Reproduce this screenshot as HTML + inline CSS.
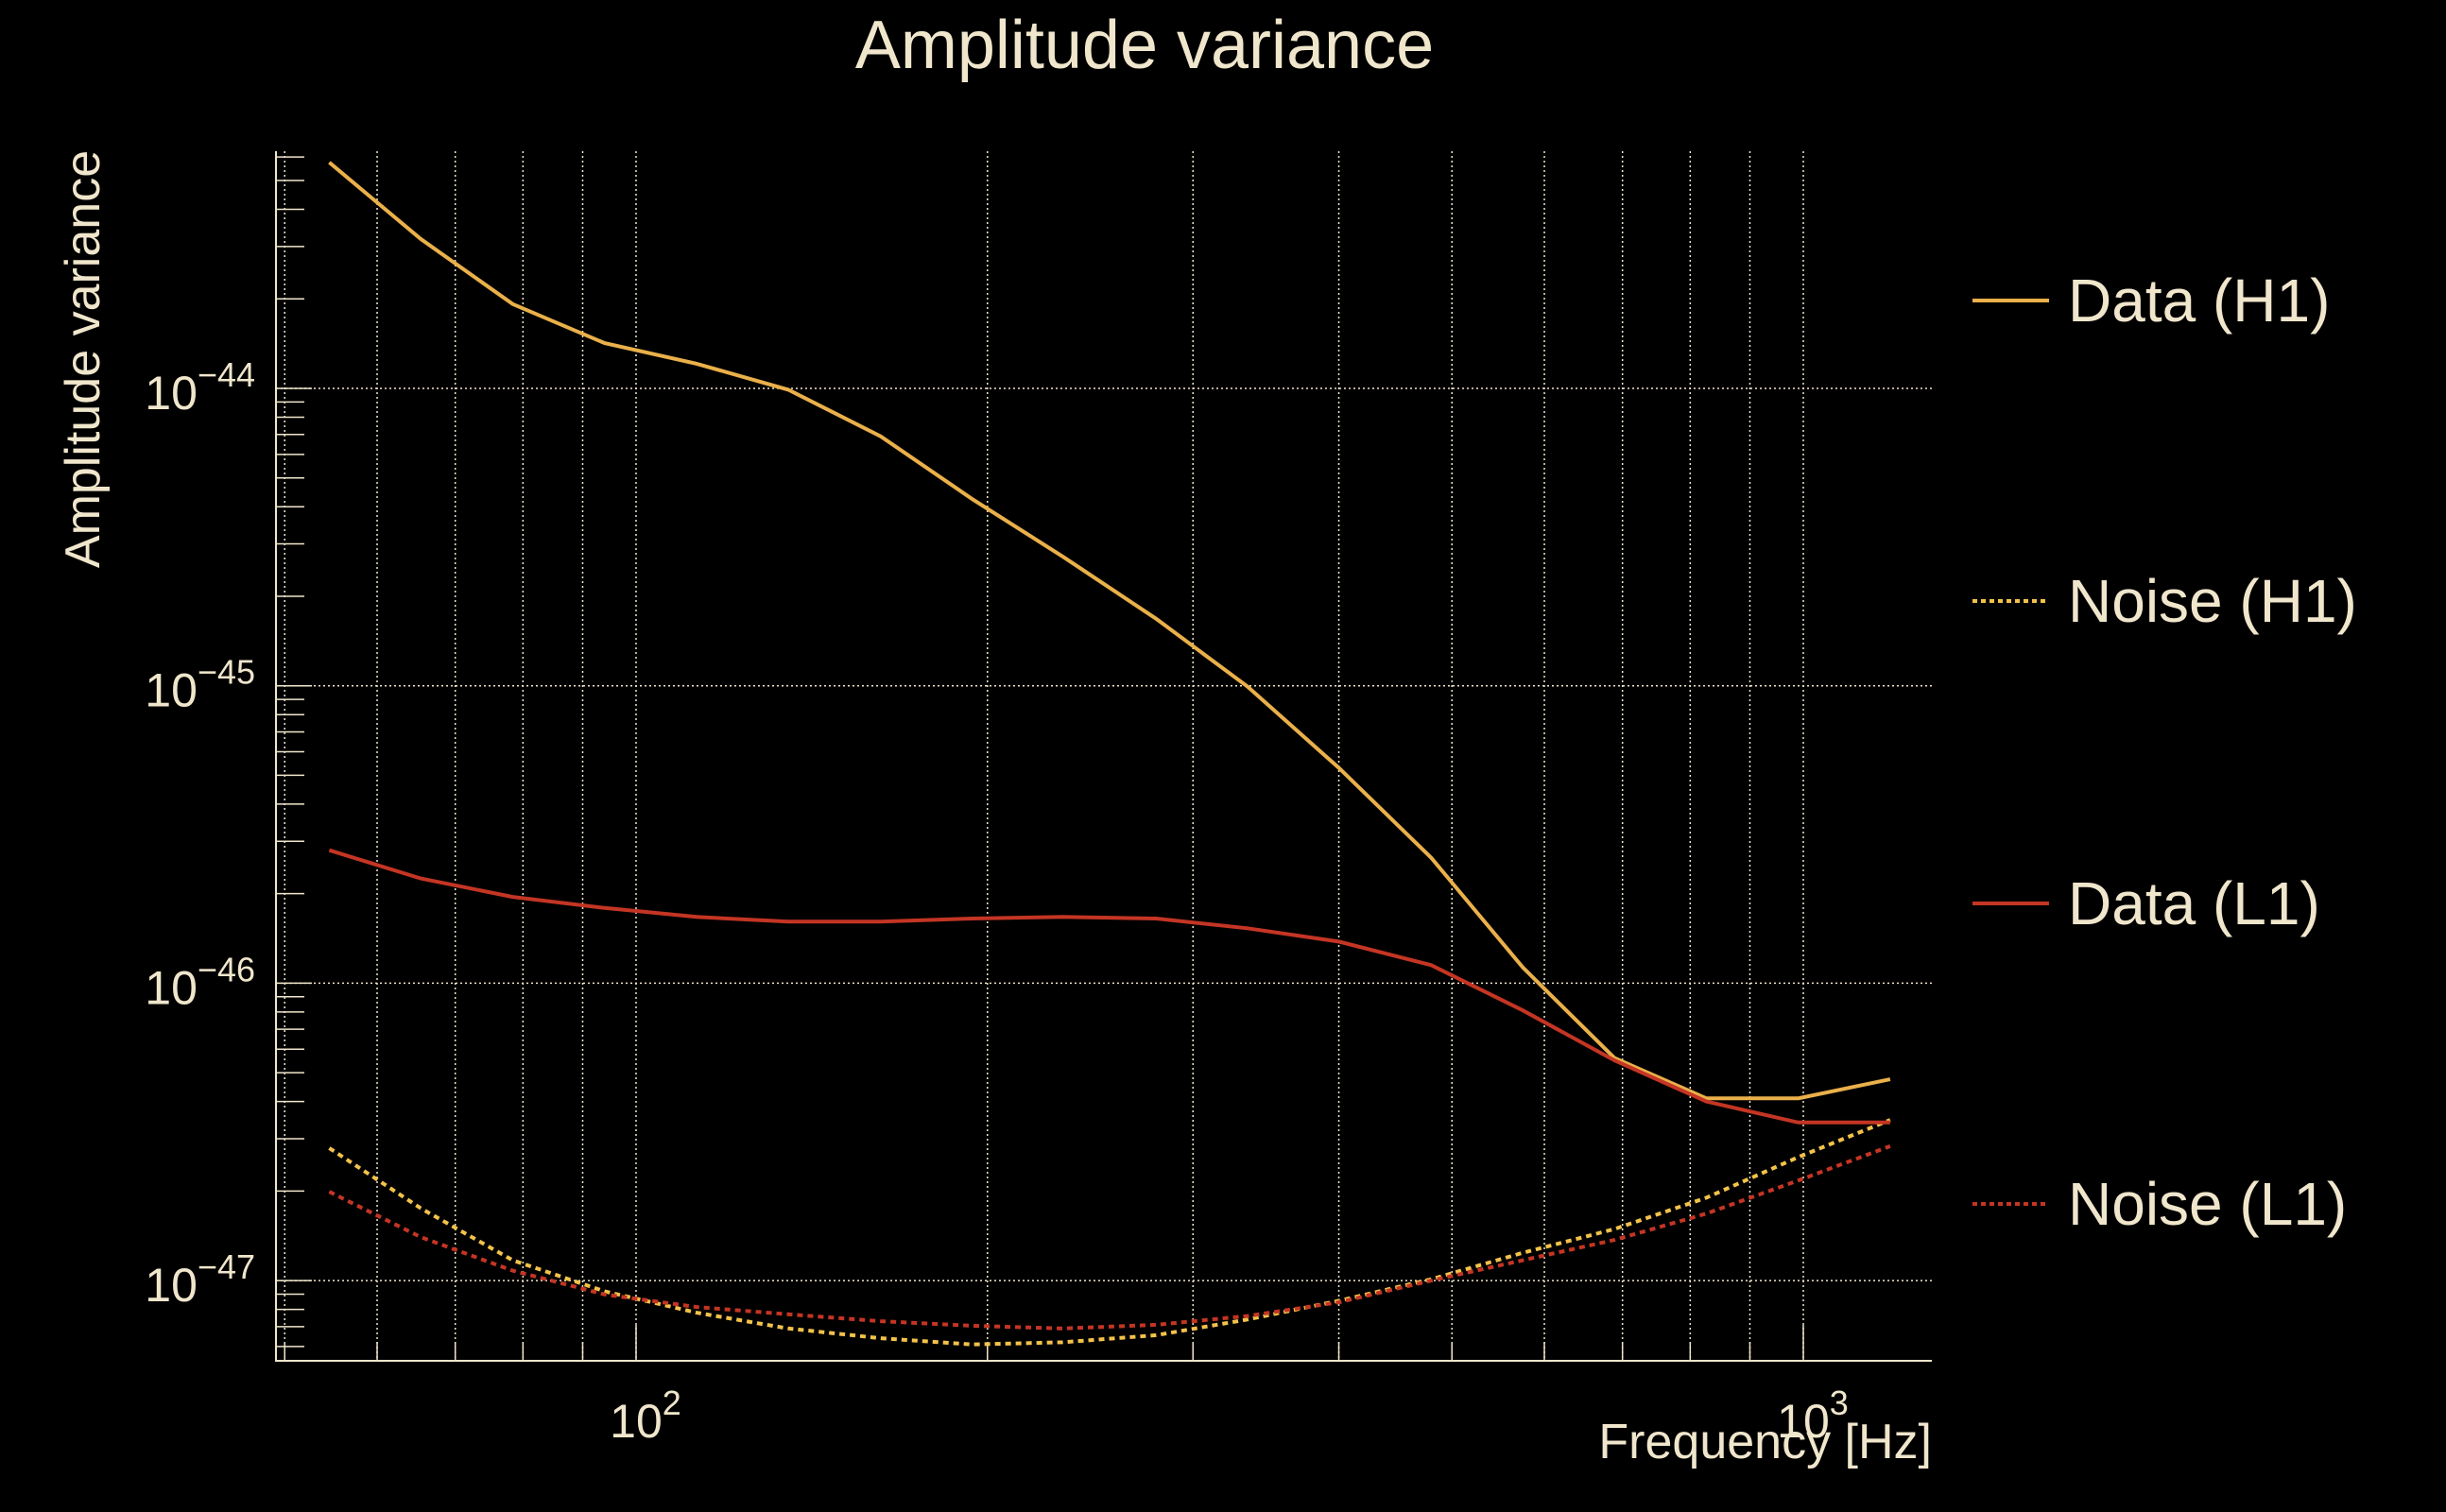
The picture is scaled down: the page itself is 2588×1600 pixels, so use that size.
<!DOCTYPE html>
<html><head><meta charset="utf-8"><style>
html,body{margin:0;padding:0;background:#000;}
svg{display:block;font-family:"Liberation Sans",sans-serif;}
</style></head><body>
<svg id="chart" width="2588" height="1600" viewBox="0 0 2588 1600" xmlns="http://www.w3.org/2000/svg">
<rect width="2588" height="1600" fill="#000"/>
<text x="1211" y="72" font-size="72" fill="#f0e6cc" text-anchor="middle">Amplitude variance</text>
<text transform="translate(105,380) rotate(-90)" font-size="52" fill="#f0e6cc" text-anchor="middle">Amplitude variance</text>
<text x="2044" y="1543" font-size="52" fill="#f0e6cc" text-anchor="end">Frequency [Hz]</text>
<g id="grid"></g>
<g id="axes"></g>
<g id="series"></g>
<g id="legend"></g>
</svg>
<script>
const freqs = [54.6, 65.4, 78.4, 94.0, 112.7, 135, 162, 194, 232, 279, 334, 400, 480, 575, 689, 826, 990, 1187];
const dataH1 = [5.75e-44, 3.18e-44, 1.92e-44, 1.42e-44, 1.21e-44, 9.9e-45, 6.9e-45, 4.25e-45, 2.72e-45, 1.68e-45, 9.95e-46, 5.3e-46, 2.64e-46, 1.13e-46, 5.6e-47, 4.1e-47, 4.1e-47, 4.75e-47];
const noiseH1 = [2.79e-47, 1.75e-47, 1.17e-47, 9.2e-48, 7.8e-48, 6.9e-48, 6.4e-48, 6.1e-48, 6.2e-48, 6.55e-48, 7.4e-48, 8.55e-48, 1.01e-47, 1.24e-47, 1.49e-47, 1.9e-47, 2.6e-47, 3.47e-47];
const dataL1 = [2.8e-46, 2.25e-46, 1.95e-46, 1.79e-46, 1.67e-46, 1.61e-46, 1.61e-46, 1.65e-46, 1.67e-46, 1.65e-46, 1.53e-46, 1.38e-46, 1.15e-46, 8.1e-47, 5.5e-47, 4.0e-47, 3.4e-47, 3.4e-47];
const noiseL1 = [1.99e-47, 1.40e-47, 1.08e-47, 8.98e-48, 8.15e-48, 7.7e-48, 7.3e-48, 7.05e-48, 6.9e-48, 7.1e-48, 7.6e-48, 8.45e-48, 1.0e-47, 1.17e-47, 1.37e-47, 1.68e-47, 2.17e-47, 2.83e-47];
const yTickExps = [-44, -45, -46, -47];
const xTickExps = [2, 3];
const legendLabels = ["Data (H1)", "Noise (H1)", "Data (L1)", "Noise (L1)"];

const NS = "http://www.w3.org/2000/svg";
const L = 292, R = 2044, T = 160, B = 1440;
const X2 = 673, XDEC = 1235, Y44 = 411, YDEC = 314.7;
const FG = "#f0e6cc";
function xs(f){ return X2 + (Math.log10(f) - 2) * XDEC; }
function ys(v){ return Y44 - (Math.log10(v) + 44) * YDEC; }
function mk(tag, attrs, parent){
  const e = document.createElementNS(NS, tag);
  for (const k in attrs) e.setAttribute(k, attrs[k]);
  parent.appendChild(e); return e;
}
const grid = document.getElementById('grid');
const axes = document.getElementById('axes');
for (let d = 1; d <= 3; d++) {
  for (let m = 1; m <= 9; m++) {
    const f = m * Math.pow(10, d);
    const x = xs(f);
    if (x <= L + 2 || x >= R) continue;
    const g = mk('line', {x1:x, x2:x, y1:T, y2:B, stroke:FG, 'stroke-width':1.5, 'stroke-dasharray':'2 3'}, grid);
    
    
    const tk = mk('line', {x1:x, x2:x, y1:B, y2:B - (m === 1 ? 38 : 20), stroke:FG, 'stroke-width':1.5}, axes);
    
    
  }
}
for (let e = -48; e <= -43; e++) {
  for (let m = 1; m <= 9; m++) {
    const v = m * Math.pow(10, e);
    const y = ys(v);
    if (y < T || y > B) continue;
    if (m === 1) {
      const g = mk('line', {x1:L, x2:R, y1:y, y2:y, stroke:FG, 'stroke-width':1.5, 'stroke-dasharray':'2 3'}, grid);
      
      
    }
    const tk = mk('line', {x1:L, x2:L + (m === 1 ? 38 : 30), y1:y, y2:y, stroke:FG, 'stroke-width':1.5}, axes);
    
    
  }
}
const ax = mk('path', {d:`M${L},${T} L${L},${B} L${R},${B}`, stroke:FG, 'stroke-width':2, fill:'none'}, axes);


yTickExps.forEach(e => {
  const t = mk('text', {x:270, y:ys(Math.pow(10, e)) + 22, 'font-size':50, fill:FG, 'text-anchor':'end'}, axes);
  
  
  t.innerHTML = '10<tspan dy="-24" font-size="36">\u2212' + (-e) + '</tspan>';
});
xTickExps.forEach(e => {
  const t = mk('text', {x:xs(Math.pow(10, e)) + 10, y:1521, 'font-size':50, fill:FG, 'text-anchor':'middle'}, axes);
  
  
  t.innerHTML = '10<tspan dy="-24" font-size="36">' + e + '</tspan>';
});
const series = document.getElementById('series');
const specs = [
  {vals:dataH1, color:'#eab04a', dash:null, name:'data-h1-line'},
  {vals:noiseH1, color:'#f2c24a', dash:'6 5', name:'noise-h1-line'},
  {vals:dataL1, color:'#c43524', dash:null, name:'data-l1-line'},
  {vals:noiseL1, color:'#c43524', dash:'6 5', name:'noise-l1-line'}
];
specs.forEach(s => {
  const d = s.vals.map((v, i) => (i ? 'L' : 'M') + xs(freqs[i]).toFixed(1) + ',' + ys(v).toFixed(1)).join(' ');
  const attrs = {d:d, stroke:s.color, 'stroke-width':4, fill:'none'};
  if (s.dash) attrs['stroke-dasharray'] = s.dash;
  const p = mk('path', attrs, series);
  
  
});
const legend = document.getElementById('legend');
const legY = [318, 636, 956, 1274];
legendLabels.forEach((lab, i) => {
  const s = specs[i];
  const a = {x1:2087, x2:2168, y1:legY[i], y2:legY[i], stroke:s.color, 'stroke-width':4};
  if (s.dash) a['stroke-dasharray'] = '5 4';
  const ln = mk('line', a, legend);
  
  
  const t = mk('text', {x:2188, y:legY[i] + 22, 'font-size':64, fill:FG}, legend);
  
  
  t.textContent = lab;
});
</script>
</body></html>
